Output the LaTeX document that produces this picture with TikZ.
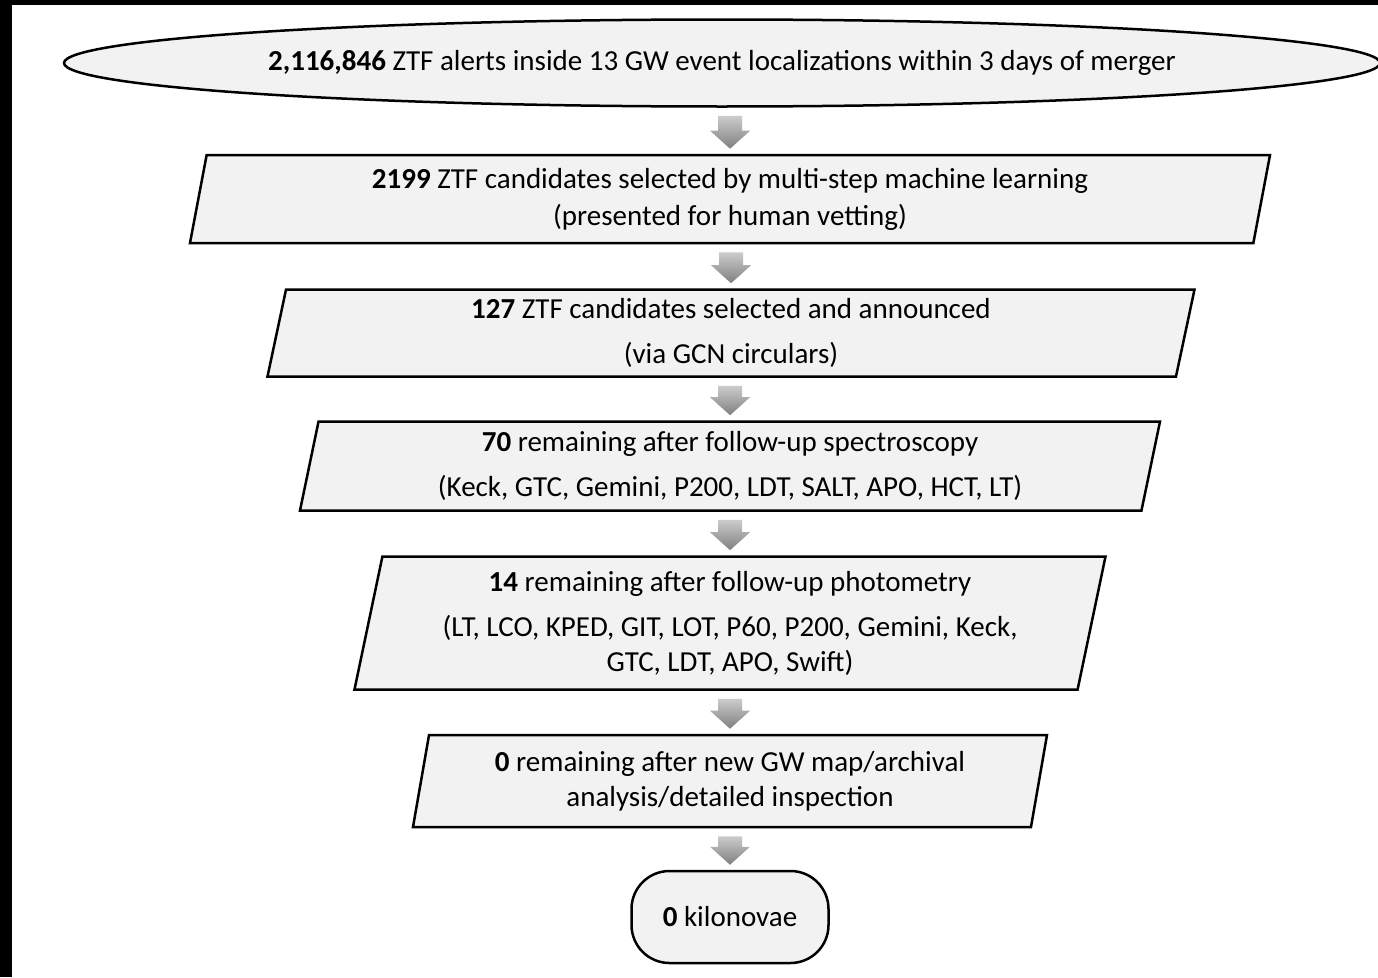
\documentclass[tikz,border=0pt]{standalone}
\usepackage{fontspec}
\setmainfont{Carlito}
\usetikzlibrary{shapes.geometric,calc}

\tikzset{
  stepbox/.style={trapezium, trapezium left angle=75, trapezium right angle=105,
    trapezium stretches body, draw, line width=2.5pt, fill=black!5,
    align=center, inner sep=0pt},
  arrowfill/.style={top color=black!20, bottom color=black!50, draw=none}
}

% gray block arrow from the bottom of #1 to the top of #2
\newcommand{\flowarrow}[2]{%
  \shade[arrowfill] ($(#1.south -| #2.north)+(-12,8)$) -- ($(#1.south -| #2.north)+(12,8)$)
    -- ($(#2.north)+(12,-23)$) -- ($(#2.north)+(20,-23)$) -- ($(#2.north)+(0,-5)$)
    -- ($(#2.north)+(-20,-23)$) -- ($(#2.north)+(-12,-23)$) -- cycle;}

\begin{document}
\begin{tikzpicture}[x=1pt, y=-1pt, font=\fontsize{29}{35}\selectfont]
\fill[black] (0,0) rectangle (1378,977);
\fill[white] (12,5) rectangle (1378,977);
\useasboundingbox (0,0) rectangle (1378,977);

\node [ellipse, draw, line width=2.5pt, fill=black!5, minimum width=1316pt,
	minimum height=87pt, inner sep=0pt] (alerts) at (722,63)
{\textbf{2,116,846} ZTF alerts inside 13 GW event localizations within 3 days of merger};

\node [stepbox, minimum width=1080pt, minimum height=88pt] (ml) at (730,199)
{\textbf{2199} ZTF candidates selected by multi-step machine learning\\[2pt]
	(presented for human vetting)};

\node [stepbox, minimum width=927pt, minimum height=87pt] (gcn) at (731,333)
{\textbf{127} ZTF candidates selected and announced\\[10pt]
	(via GCN circulars)};

\node [stepbox, minimum width=860pt, minimum height=89pt] (spec) at (730,466)
{\textbf{70} remaining after follow-up spectroscopy\\[10pt]
	(Keck, GTC, Gemini, P200, LDT, SALT, APO, HCT, LT)};

\node [stepbox, minimum width=751pt, minimum height=133pt] (phot) at (730,623)
{\textbf{14} remaining after follow-up photometry\\[10pt]
	(LT, LCO, KPED, GIT, LOT, P60, P200, Gemini, Keck,\\
	GTC, LDT, APO, Swift)};

\node [stepbox, minimum width=634pt, minimum height=92pt] (insp) at (730,781)
{\textbf{0} remaining after new GW map/archival\\
	analysis/detailed inspection};

\node [draw, line width=2.5pt, fill=black!5, rounded corners=38pt,
	minimum width=197pt, minimum height=92pt] (kn) at (730,917)
{\textbf{0} kilonovae};

\flowarrow{alerts}{ml}
\flowarrow{ml}{gcn}
\flowarrow{gcn}{spec}
\flowarrow{spec}{phot}
\flowarrow{phot}{insp}
\flowarrow{insp}{kn}
\end{tikzpicture}
\end{document}
